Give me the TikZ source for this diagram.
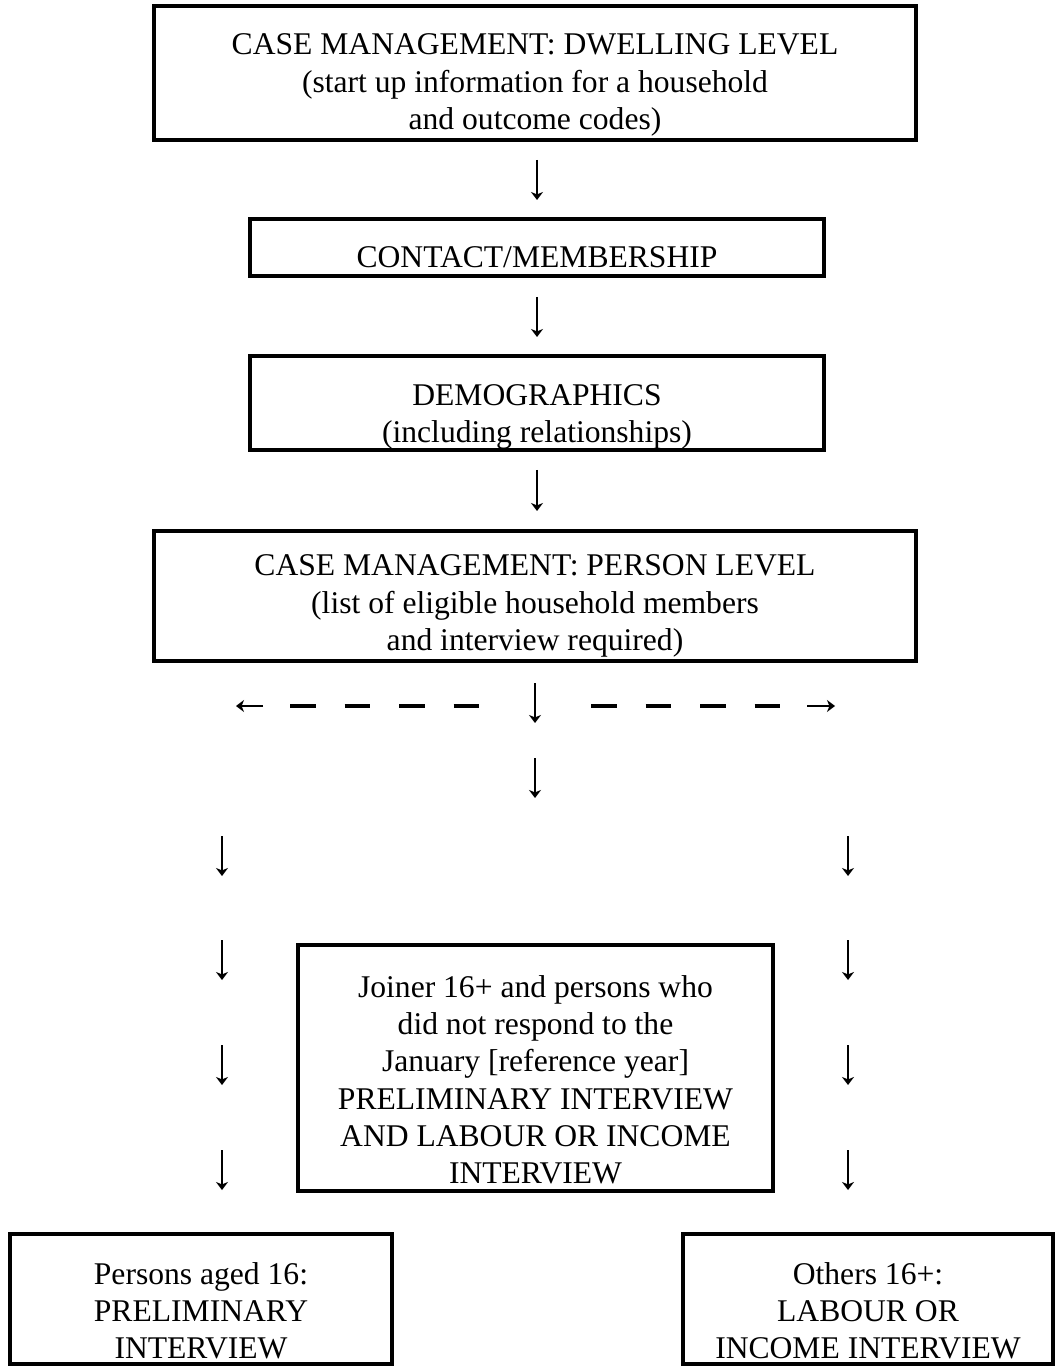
\documentclass[tikz,border=0pt]{standalone}
\usepackage{fontspec}
\setmainfont{Liberation Serif}
\usetikzlibrary{fit,arrows.meta}
\tikzset{
  boxframe/.style={draw=black, line width=1.8pt, inner sep=0pt},
  txt/.style={align=center, inner sep=0pt, font=\fontsize{15.8}{18.6}\selectfont},
  glypharrow/.style={line width=0.9pt, -{Stealth[length=4pt,width=6pt,inset=1.2pt]}},
  dashrow/.style={line width=1.8pt, line cap=butt, dash pattern=on 12.75pt off 14.5pt}
}
\begin{document}
\begin{tikzpicture}[x=0.5pt,y=-0.5pt]
\useasboundingbox (0,0) rectangle (1058,1368);

% boxes
\node[boxframe, fit={(154,6) (916,140)}] (b1) {};
\node[boxframe, fit={(250,219) (824,276)}] (b2) {};
\node[boxframe, fit={(250,356) (824,450)}] (b3) {};
\node[boxframe, fit={(154,531) (916,661)}] (b4) {};
\node[boxframe, fit={(298,945) (773,1191)}] (b5) {};
\node[boxframe, fit={(10,1234) (392,1364)}] (b6) {};
\node[boxframe, fit={(683,1234) (1053,1364)}] (b7) {};

% texts
\node[txt] (t1) at (535,85) {CASE MANAGEMENT: DWELLING LEVEL\\(start up information for a household\\and outcome codes)};
\node[txt] (t2) at (537,257) {CONTACT/MEMBERSHIP};
\node[txt] (t3) at (537,416.7) {DEMOGRAPHICS\\(including relationships)};
\node[txt] (t4) at (535,606) {CASE MANAGEMENT: PERSON LEVEL\\(list of eligible household members\\and interview required)};
\node[txt] (t5) at (535.5,1079.7) {Joiner 16+ and persons who\\did not respond to the\\January [reference year]\\PRELIMINARY INTERVIEW\\AND LABOUR OR INCOME\\INTERVIEW};
\node[txt] (t6) at (201,1311) {Persons aged 16:\\PRELIMINARY\\INTERVIEW};
\node[txt] (t7) at (868,1311) {Others 16+:\\LABOUR OR\\INCOME INTERVIEW};

% arrow end points
\coordinate (a1s) at (537,160); \coordinate (a1e) at (537,200);
\coordinate (a2s) at (537,297); \coordinate (a2e) at (537,337);
\coordinate (a3s) at (537,470); \coordinate (a3e) at (537,511);
\coordinate (c1s) at (535,683); \coordinate (c1e) at (535,723);
\coordinate (c2s) at (535,758); \coordinate (c2e) at (535,798);

\coordinate (las) at (263,706); \coordinate (lae) at (236,706);
\coordinate (ras) at (807,706); \coordinate (rae) at (835,706);
\coordinate (lds) at (479,706); \coordinate (lde) at (290,706);
\coordinate (rds) at (591,706); \coordinate (rde) at (780,706);

\foreach \i/\y in {1/836,2/940,3/1045,4/1150}{
  \coordinate (l\i s) at (222,\y);
  \coordinate (l\i e) at (222,\y+40);
  \coordinate (r\i s) at (848,\y);
  \coordinate (r\i e) at (848,\y+40);
}

% arrows
\draw[glypharrow] (a1s) -- (a1e);
\draw[glypharrow] (a2s) -- (a2e);
\draw[glypharrow] (a3s) -- (a3e);
\draw[glypharrow] (c1s) -- (c1e);
\draw[glypharrow] (c2s) -- (c2e);
\draw[glypharrow] (las) -- (lae);
\draw[glypharrow] (ras) -- (rae);
\draw[dashrow] (lde) -- (lds);
\draw[dashrow] (rds) -- (rde);
\foreach \i in {1,2,3,4}{
  \draw[glypharrow] (l\i s) -- (l\i e);
  \draw[glypharrow] (r\i s) -- (r\i e);
}
\end{tikzpicture}
\end{document}
